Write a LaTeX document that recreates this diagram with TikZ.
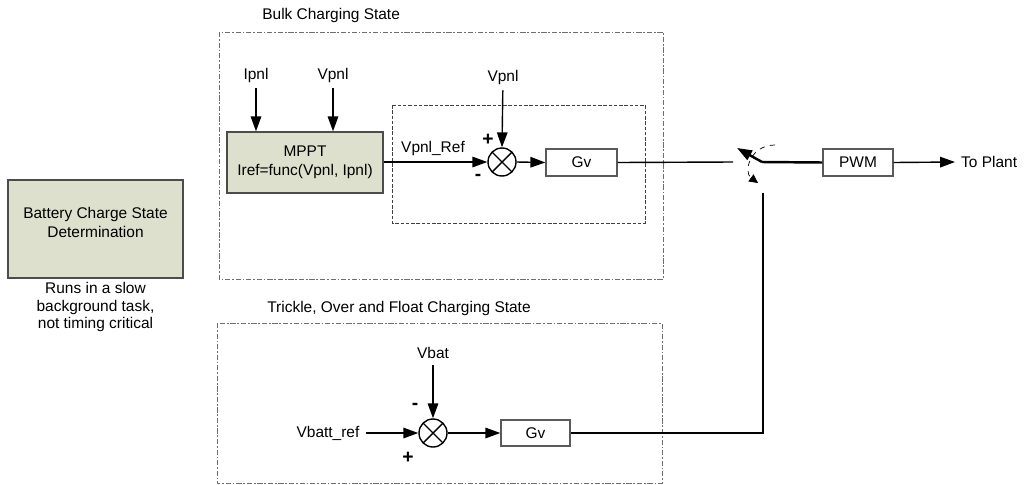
\documentclass[tikz,border=0pt]{standalone}
\usepackage{fontspec}
\setmainfont{Liberation Sans}
\usepackage{tikz}
\usetikzlibrary{arrows.meta,positioning,calc}
\definecolor{stategreen}{RGB}{221,224,204}
\definecolor{framegrey}{RGB}{90,90,90}
\definecolor{zonegrey}{RGB}{110,110,110}

\begin{document}
\begin{tikzpicture}[x=0.2mm, y=-0.2mm,
    every node/.style={font=\fontsize{8.8}{10.8}\selectfont},
    block/.style={rectangle, draw=framegrey, thick, fill=white, minimum width=14.2mm,
                  minimum height=5.4mm, inner sep=0pt},
    greenblock/.style={block, fill=stategreen, draw=black!70, align=center},
    sumnode/.style={circle, draw=black, thick, minimum size=5.6mm, inner sep=0pt,
                    path picture={\draw[thick] (path picture bounding box.north west) -- (path picture bounding box.south east)
                                               (path picture bounding box.north east) -- (path picture bounding box.south west);}},
    sign/.style={font=\fontsize{11}{11}\selectfont\bfseries, inner sep=0pt},
    arr/.style={-{Triangle[length=8.5pt,width=6pt]}, thick},
    zone/.style={draw=zonegrey, dash pattern=on 3pt off 1pt on 1pt off 1pt},
    loopzone/.style={draw=black!75, dash pattern=on 2pt off 1pt}
]
    \useasboundingbox (0,0) rectangle (1025,484);

    % battery state determination
    \node[greenblock, minimum width=35mm, minimum height=19.6mm] (batt) at (95.5,229) {};
    \node[align=center] (battlbl) at (95.5,222.5) {Battery Charge State\\Determination};
    \node[align=center, font=\fontsize{8.8}{10.2}\selectfont] (battnote) at (95.5,307)
        {Runs in a slow\\background task,\\not timing critical};

    % bulk charging state
    \draw[zone] (219,32) rectangle (663,279);
    \node[anchor=west, inner sep=0pt] (bulktitle) at (262,15) {Bulk Charging State};
    \draw[loopzone] (392,105) rectangle (645,223);
    \node[greenblock, minimum width=31.2mm, minimum height=12.2mm] (mppt) at (305,162.5)
        {MPPT\\Iref=func(Vpnl, Ipnl)};
    \node (ipnl) at (256,75) {Ipnl};
    \node (vpnl) at (333,75) {Vpnl};
    \draw[arr] (ipnl) -- (ipnl |- mppt.north);
    \draw[arr] (vpnl) -- (vpnl |- mppt.north);
    \node[sumnode] (sumbulk) at (502,162) {};
    \node (vpnlfb) at (503,77) {Vpnl};
    \node (vpnlref) at (433,148) {Vpnl\_Ref};
    \node[sign] (plusbulk) at (488,140) {+};
    \node[sign] (minusbulk) at (478,177) {-};
    \node[block] (gvbulk) at (581.5,162.5) {Gv};
    \draw[arr] (vpnlfb) -- (sumbulk.north);
    \draw[arr] (mppt.east |- sumbulk) -- (sumbulk.west);
    \draw[arr] (sumbulk.east) -- (gvbulk.west);

    % state selector switch
    \coordinate (swtop) at (733,162);
    \coordinate (pivot) at (762,162);
    \coordinate (swtip) at (737,148);
    \coordinate (swlow) at (763,193);
    \coordinate (turn) at (763,433);
    \coordinate (arcstart) at (775,145);
    \coordinate (arcend) at (758,183);
    \draw[thick] (gvbulk.east) -- (swtop);
    \draw[arr, line width=1.4pt] (pivot) -- (swtip);
    \draw[dashed, -{Triangle[length=5pt,width=5pt]}] (arcstart) .. controls (750,145) and (743,172) .. (arcend);
    \node[block, minimum width=14mm] (pwm) at (858,162.5) {PWM};
    \draw[line width=1.4pt] (pivot) -- (pwm.west);
    \node[anchor=west] (toplant) at (955,162) {To Plant};
    \draw[arr] (pwm.east) -- (toplant.west);

    % trickle, over and float charging state
    \draw[zone] (217,323) rectangle (662,483);
    \node[anchor=west, inner sep=0pt] (trickletitle) at (267,308) {Trickle, Over and Float Charging State};
    \node[sumnode] (sumtrickle) at (433,433) {};
    \node (vbat) at (433,353) {Vbat};
    \node (vbattref) at (328,433) {Vbatt\_ref};
    \node[sign] (minustrickle) at (415,406) {-};
    \node[sign] (plustrickle) at (408,458) {+};
    \node[block, minimum width=13.8mm, minimum height=5.2mm] (gvtrickle) at (535.5,433) {Gv};
    \draw[arr] (vbat) -- (sumtrickle.north);
    \draw[arr] (vbattref) -- (sumtrickle.west);
    \draw[arr] (sumtrickle.east) -- (gvtrickle.west);
    \draw[thick] (gvtrickle.east) -- (turn) -- (swlow);
\end{tikzpicture}
\end{document}
